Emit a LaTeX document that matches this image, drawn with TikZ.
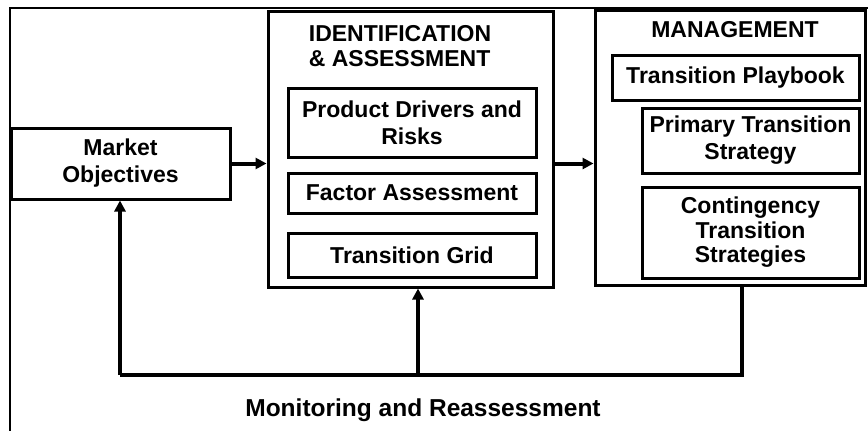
\documentclass[tikz,border=0pt]{standalone}
\usepackage{fontspec}
\setmainfont{Liberation Sans}
\usetikzlibrary{arrows.meta,calc}
\begin{document}
\begin{tikzpicture}[x=1pt,y=-1pt,
  every node/.style={font=\fontsize{23}{27}\selectfont\bfseries, inner sep=0pt, align=center},
  box/.style={draw, line width=3pt, rectangle},
  frameline/.style={line width=2pt},
  flow/.style={line width=4pt, -{Triangle[length=11pt,width=11pt]}},
  fbline/.style={line width=3.5pt}
]
\useasboundingbox (0,0) rectangle (868,431);
% outer frame (left and top only)
\draw[frameline] (10,431) -- (10,7.5) -- (868,7.5);

% Market objectives
\node[box, minimum width=219pt, minimum height=71pt] (market) at (120.5,163.5) {Market\\Objectives};

% Identification & assessment container
\node[box, minimum width=285pt, minimum height=276pt] (id) at (410.5,149) {};
\node[align=left, font=\fontsize{23}{25}\selectfont\bfseries] (idtitle) at (400,46) {IDENTIFICATION\\\& ASSESSMENT};
\node[box, minimum width=248pt, minimum height=69pt] (pd) at (412,122.5) {Product Drivers and\\Risks};
\node[box, minimum width=248pt, minimum height=40pt] (fa) at (412,193) {Factor Assessment};
\node[box, minimum width=248pt, minimum height=44pt] (tg) at (412,255) {Transition Grid};

% Management container
\node[box, minimum width=270pt, minimum height=275pt] (mgmt) at (730,147.5) {};
\node (mgtitle) at (735,30) {MANAGEMENT};
\node[box, minimum width=247pt, minimum height=45pt] (tp) at (735.5,77.5) {Transition Playbook};
\node[box, minimum width=217pt, minimum height=65pt] (pts) at (750.5,140.5) {Primary Transition\\Strategy};
\node[box, minimum width=217pt, minimum height=91pt, font=\fontsize{23}{24.5}\selectfont\bfseries] (cts) at (750.5,232.5) {Contingency\\Transition\\Strategies};

% forward arrows
\draw[flow] (market.east) -- (market.east -| id.west);
\draw[flow] (id.east |- market.east) -- (mgmt.west |- market.east);

% feedback loop
\coordinate (fbL) at (120,375);
\coordinate (fbM) at (418,375);
\coordinate (fbR) at (742,375);
\draw[fbline] (mgmt.south -| fbR) -- (fbR) -- (fbL);
\draw[flow] (fbL) -- (market.south -| fbL);
\draw[flow] (fbM) -- (id.south -| fbM);

\node[font=\fontsize{24.5}{27}\selectfont\bfseries] (mon) at (423,410) {Monitoring and Reassessment};
\end{tikzpicture}
\end{document}
